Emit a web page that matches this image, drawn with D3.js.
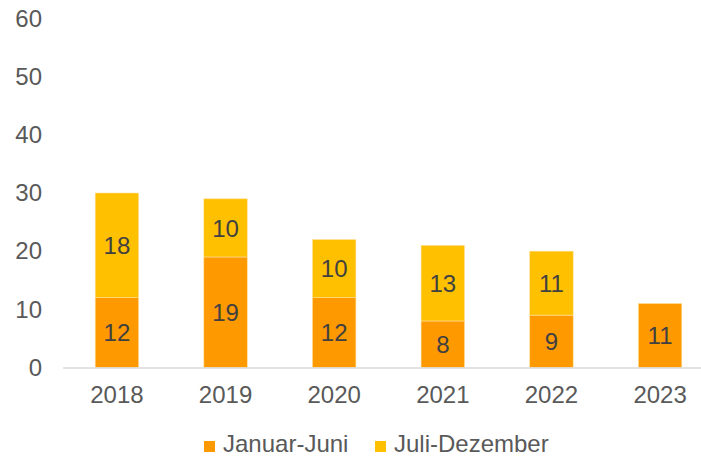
<!DOCTYPE html>
<html>
<head>
<meta charset="utf-8">
<script src="https://cdn.jsdelivr.net/npm/d3@7.9.0/dist/d3.min.js"></script>
<style>
  body { margin: 0; background: #fff; }
  svg { display: block; font-family: "Liberation Sans", Arial, sans-serif; }
</style>
</head>
<body>
<div id="chart"></div>
<script>
const years = ['2018', '2019', '2020', '2021', '2022', '2023'];
const firstHalf = [12, 19, 12, 8, 9, 11];
const secondHalf = [18, 10, 10, 13, 11, 0];
const seriesNames = ['Januar-Juni', 'Juli-Dezember'];
const seriesColors = ['#ff9900', '#ffc000'];
const yTicks = [0, 10, 20, 30, 40, 50, 60];

const width = 701;
const height = 456;
const fontSize = '24px';

const svg = d3.select('#chart')
  .append('svg')
  .attr('width', width)
  .attr('height', height);

const xScale = d3.scaleBand()
  .domain(years)
  .range([62.6, 714.4])
  .paddingInner(0.6)
  .paddingOuter(0.3);

const yScale = d3.scaleLinear()
  .domain([0, 60])
  .range([367.5, 18.5]);

const rows = years.map((y, i) => ({ year: y, 'Januar-Juni': firstHalf[i], 'Juli-Dezember': secondHalf[i] }));
const stacked = d3.stack().keys(seriesNames)(rows);

// bars
const layers = svg.append('g')
  .selectAll('g')
  .data(stacked)
  .join('g')
  .attr('fill', (d, i) => seriesColors[i]);

layers.selectAll('rect')
  .data(d => d.filter(s => s[1] - s[0] > 0))
  .join('rect')
  .attr('x', d => xScale(d.data.year))
  .attr('width', xScale.bandwidth())
  .attr('y', d => yScale(d[1]))
  .attr('height', d => yScale(d[0]) - yScale(d[1]))
  .attr('stroke', '#ffe0a0')
  .attr('stroke-width', 0.6);

// value labels
layers.selectAll('text')
  .data(d => d.filter(s => s[1] - s[0] > 0))
  .join('text')
  .attr('x', d => xScale(d.data.year) + xScale.bandwidth() / 2)
  .attr('y', d => (yScale(d[0]) + yScale(d[1])) / 2)
  .attr('dy', '0.36em')
  .attr('text-anchor', 'middle')
  .attr('fill', '#404040')
  .style('font-size', fontSize)
  .text(d => d[1] - d[0]);

// y axis labels
const yAxis = svg.append('g')
  .attr('transform', 'translate(42,0)')
  .call(d3.axisLeft(yScale).tickValues(yTicks).tickSize(0).tickPadding(0));
yAxis.select('.domain').remove();
yAxis.selectAll('text')
  .attr('fill', '#595959')
  .style('font-size', fontSize)
  .style('font-family', '"Liberation Sans", Arial, sans-serif');

// x axis
const xAxis = svg.append('g')
  .attr('transform', `translate(0,${yScale(0)})`)
  .call(d3.axisBottom(xScale).tickSize(0).tickPadding(18));
xAxis.select('.domain').attr('stroke', '#d9d9d9').attr('stroke-width', 1.5);
xAxis.selectAll('text')
  .attr('fill', '#595959')
  .style('font-size', fontSize)
  .style('font-family', '"Liberation Sans", Arial, sans-serif');

// legend
const legendX = [204, 375];
const legend = svg.append('g')
  .selectAll('g')
  .data(seriesNames)
  .join('g')
  .attr('transform', (d, i) => `translate(${legendX[i]},441)`);
legend.append('rect')
  .attr('width', 11)
  .attr('height', 11)
  .attr('fill', (d, i) => seriesColors[i]);
legend.append('text')
  .attr('x', 19)
  .attr('y', 11)
  .attr('fill', '#595959')
  .style('font-size', fontSize)
  .text(d => d);
</script>
</body>
</html>
